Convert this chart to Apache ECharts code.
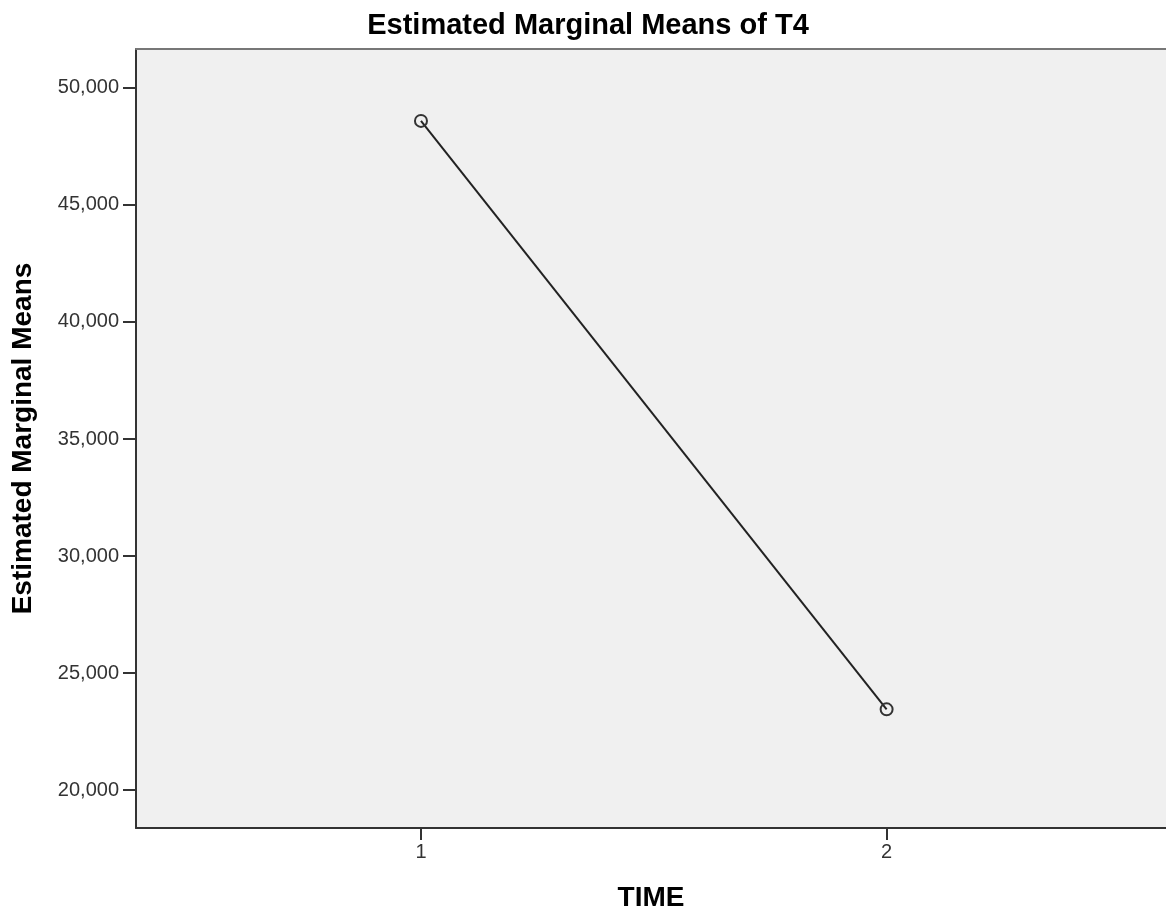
<!DOCTYPE html>
<html>
<head>
<meta charset="utf-8">
<script src="https://cdn.jsdelivr.net/npm/echarts@6/dist/echarts.min.js"></script>
<style>
  html, body { margin: 0; padding: 0; background: #fff; }
  #main { width: 1166px; height: 917px; }
</style>
</head>
<body>
<div id="main"></div>
<script>
// data
const times = [1, 2]
const means = [48590, 23450]
const yTicks = [20000, 25000, 30000, 35000, 40000, 45000, 50000]

const font = 'Liberation Sans, Arial, sans-serif'

let chart = echarts.init(document.getElementById('main'))

let option = {
  backgroundColor: '#fff',
  animation: false,
  title: {
    text: 'Estimated Marginal Means of T4',
    left: 583,
    textAlign: 'center',
    top: 6,
    textStyle: { fontFamily: font, fontSize: 29, fontWeight: 'bold', color: '#000' }
  },
  grid: {
    left: 136,
    right: 0,
    top: 49,
    bottom: 86,
    show: true,
    backgroundColor: '#f0f0f0',
    borderWidth: 0
  },
  xAxis: [
    {
      type: 'value',
      min: 0.388,
      max: 2.6,
      name: 'TIME',
      nameLocation: 'middle',
      nameGap: 56,
      nameTextStyle: { fontFamily: font, fontSize: 28, fontWeight: 'bold', color: '#000' },
      splitLine: { show: false },
      axisLine: { show: true, lineStyle: { color: '#333', width: 2 } },
      axisTick: { show: true, length: 12, customValues: times, lineStyle: { color: '#333', width: 2 } },
      axisLabel: { customValues: times, fontFamily: font, fontSize: 20, color: '#333', margin: 14 }
    },
    {
      type: 'value',
      position: 'top',
      min: 0.388,
      max: 2.6,
      splitLine: { show: false },
      axisLine: { show: true, lineStyle: { color: '#777', width: 2 } },
      axisTick: { show: false },
      axisLabel: { show: false }
    }
  ],
  yAxis: {
    type: 'value',
    min: 18381,
    max: 51662,
    name: 'Estimated Marginal Means',
    nameLocation: 'middle',
    nameGap: 99,
    nameTextStyle: { fontFamily: font, fontSize: 28, fontWeight: 'bold', color: '#000' },
    splitLine: { show: false },
    axisLine: { show: true, lineStyle: { color: '#333', width: 2 } },
    axisTick: { show: true, length: 13, customValues: yTicks, lineStyle: { color: '#333', width: 2 } },
    axisLabel: {
      customValues: yTicks,
      fontFamily: font,
      fontSize: 20,
      color: '#333',
      margin: 17,
      formatter: v => v.toLocaleString('en-US')
    }
  },
  series: [
    {
      type: 'line',
      data: times.map((t, i) => [t, means[i]]),
      symbol: 'circle',
      symbolSize: 12,
      lineStyle: { color: '#222', width: 2 },
      itemStyle: { color: 'rgba(0,0,0,0)', borderColor: '#333', borderWidth: 2 }
    }
  ]
}

chart.setOption(option)
</script>
</body>
</html>
